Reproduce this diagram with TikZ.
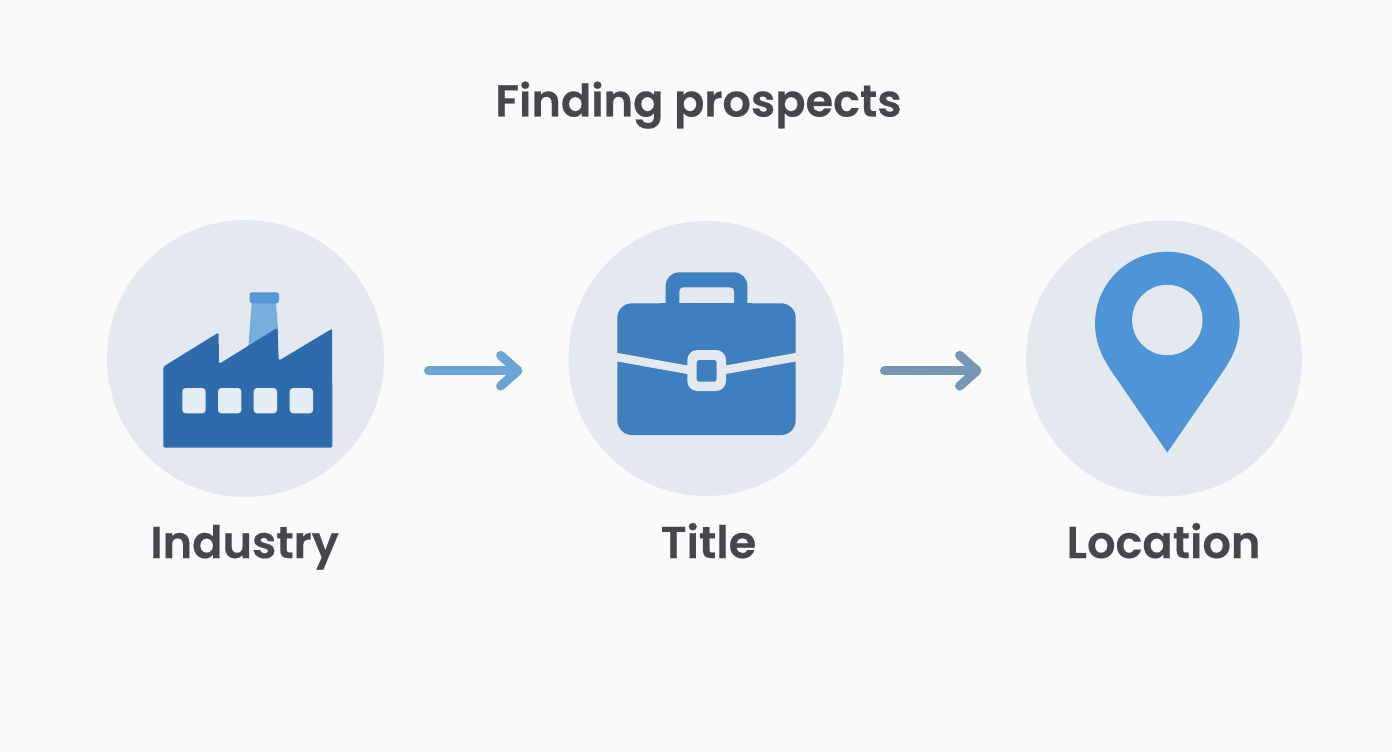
\documentclass[tikz,border=0pt]{standalone}
\usepackage{fontspec}
\setmainfont[FakeBold=0.35]{Poppins SemiBold}
\usetikzlibrary{arrows.meta}
\definecolor{bgc}{HTML}{FAFAFA}
\definecolor{disc}{HTML}{E4E9F0}
\definecolor{ink}{HTML}{45474D}
\definecolor{factoryc}{HTML}{2E6BAC}
\definecolor{shaftc}{HTML}{76AEDD}
\definecolor{capc}{HTML}{5597D2}
\definecolor{winc}{HTML}{E6ECF3}
\definecolor{casec}{HTML}{3E80BF}
\definecolor{pinc}{HTML}{4F94D6}
\definecolor{arrA}{HTML}{6BA5D8}
\definecolor{arrB}{HTML}{7596B5}
\tikzset{
  discnode/.style={circle,fill=disc,inner sep=0pt,minimum size=#1*0.75pt},
  textnode/.style={font=\fontsize{33.5}{36}\selectfont,text=ink,inner sep=0pt,anchor=base},
  flow/.style={line width=6.8pt,line cap=round,-{Straight Barb[round,length=13pt,width=23pt,line width=6.8pt]}},
}
\begin{document}
\begin{tikzpicture}[x=0.75pt,y=-0.75pt]
\useasboundingbox (0,0) rectangle (1392,752);
\fill[bgc] (0,0) rectangle (1392,752);
\node[textnode] (title) at (698.5,116.5) {Finding prospects};
\node[discnode=277] (c1) at (245.5,358.5) {};
\node[discnode=275] (c2) at (706,358.5) {};
\node[discnode=276] (c3) at (1164,358.5) {};
\node[textnode] (l1) at (244.5,558) {Industry};
\node[textnode] (l2) at (708.5,558) {Title};
\node[textnode] (l3) at (1163.5,558) {Location};
% factory
\fill[shaftc] (251.7,303) -- (276,303) -- (278.3,332) -- (248.3,347) -- cycle;
\fill[capc,rounded corners=2pt] (249.5,292.3) rectangle (279,303.3);
\fill[factoryc,rounded corners=1.6pt] (163.3,366.7) -- (218.6,332.5) -- (219,364) -- (277.6,327.6) -- (278.7,360.7) -- (332.2,328.6) -- (332.3,447.7) -- (163.3,447.7) -- cycle;
\foreach \wx in {182.3,218,253.7,289.7}
  \fill[winc,rounded corners=2.5pt] (\wx,388) rectangle ++(23.3,25.3);
% briefcase
\fill[casec,rounded corners=10pt] (665.7,320) -- (665.7,272.3) -- (747.3,272.3) -- (747.3,320) -- cycle;
\fill[disc,rounded corners=3pt] (679.3,310) -- (679.3,287.3) -- (734,287.3) -- (734,310) -- cycle;
\fill[casec] (660,303.3) rectangle (752,315);
\fill[casec,rounded corners=11pt] (617.3,303.3) rectangle (795.7,435);
\draw[disc,line width=6.3pt] (615,356.8) -- (700,372) -- (713,372) -- (798,356.8);
\fill[disc,rounded corners=7.5pt] (687.3,350) rectangle (726,391);
\fill[casec,rounded corners=2pt] (696.7,360) rectangle (716.7,381.7);
% location marker
\fill[pinc] (1167.3,452.5) -- (1112,372) .. controls (1101,356) and (1095,341) .. (1095,323.7)
  .. controls (1095,283.9) and (1127.5,251.7) .. (1167.3,251.7)
  .. controls (1207.1,251.7) and (1239.6,283.9) .. (1239.6,323.7)
  .. controls (1239.6,341) and (1233.6,356) .. (1222.6,372) -- cycle;
\fill[disc] (1167.3,320) circle[radius=35.2];
% connectors
\coordinate (a1s) at (428.5,370.7);
\coordinate (a1e) at (522.5,370.7);
\coordinate (a2s) at (884.5,370.7);
\coordinate (a2e) at (981.5,370.7);
\draw[flow,arrA] (a1s) -- (a1e);
\draw[flow,arrB] (a2s) -- (a2e);
\end{tikzpicture}
\end{document}
